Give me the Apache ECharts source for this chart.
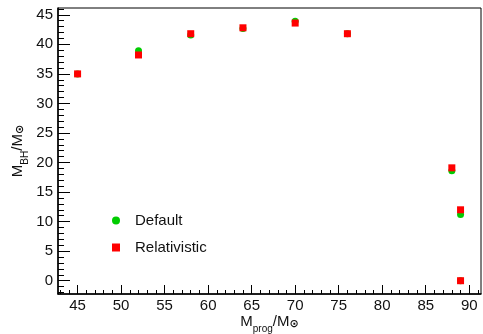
<!DOCTYPE html>
<html>
<head>
<meta charset="utf-8">
<script src="https://cdn.jsdelivr.net/npm/echarts@6/dist/echarts.min.js"></script>
<style>
  html, body { margin: 0; padding: 0; background: #fff; }
  #chart { width: 483px; height: 334px; }
</style>
</head>
<body>
<div id="chart"></div>
<script>
// progenitor masses (x) and black hole masses (y)
const progMass = [45, 52, 58, 64, 70, 76, 88, 89, 89];
const defaultBH = [35.0, 38.9, 41.6, 42.7, 43.9, 41.8, 18.6, 11.2, 0.0];
const relativisticBH = [35.0, 38.2, 41.8, 42.8, 43.6, 41.8, 19.1, 12.0, 0.0];

const xMajorTicks = [45, 50, 55, 60, 65, 70, 75, 80, 85, 90];
const xMinorTicks = Array.from({ length: 49 }, (_, i) => 43 + i);
const yMajorTicks = [0, 5, 10, 15, 20, 25, 30, 35, 40, 45];
const yMinorTicks = Array.from({ length: 49 }, (_, i) => -2 + i);

const xRange = [42.75, 91.35];
const yRange = [-2.25, 46.15];

const font = "'Liberation Sans', 'DejaVu Sans', Arial, sans-serif";
const textColor = "#111";

const rich = {
  m: { fontFamily: font, fontSize: 15, color: textColor },
  s: { fontFamily: font, fontSize: 10, color: textColor, verticalAlign: "bottom", padding: [0, 0, -5, 0] },
  o: { fontFamily: "'DejaVu Sans', sans-serif", fontSize: 11, color: textColor, fontWeight: "bold", padding: [0, 0, -5, 0] },
};

const pairs = (ys) => progMass.map((x, i) => [x, ys[i]]);

const chart = echarts.init(document.getElementById("chart"), undefined, { renderer: "canvas" });
chart.setOption({
  animation: false,
  grid: {
    left: 58, right: 2, top: 8, bottom: 40,
    outerBoundsMode: "none", containLabel: false,
    show: true, borderColor: "#000", borderWidth: 1, backgroundColor: "#fff",
  },
  legend: {
    orient: "vertical",
    left: 107, top: 208,
    itemWidth: 8, itemHeight: 8, itemGap: 12,
    textStyle: { fontFamily: font, fontSize: 15, color: textColor, padding: [0, 0, 0, 10] },
    data: [
      { name: "Default", icon: "circle" },
      { name: "Relativistic", icon: "rect" },
    ],
  },
  xAxis: [
    {
      type: "value", min: xRange[0], max: xRange[1], position: "bottom",
      name: "{m|M}{s|prog}{m|/M}{o|⊙}", nameLocation: "middle", nameGap: 20, nameMoveOverlap: false,
      nameTextStyle: { rich },
      axisLine: { onZero: false, lineStyle: { color: "#000", width: 1.5 } },
      axisTick: { inside: true, length: 9, customValues: xMajorTicks, lineStyle: { color: "#000" } },
      axisLabel: { customValues: xMajorTicks, margin: 4, fontFamily: font, fontSize: 15, color: textColor },
      splitLine: { show: false },
    },
    {
      type: "value", min: xRange[0], max: xRange[1], position: "bottom",
      axisLine: { show: false, onZero: false },
      axisTick: { inside: true, length: 4, customValues: xMinorTicks, lineStyle: { color: "#000" } },
      axisLabel: { show: false },
      splitLine: { show: false },
    },
  ],
  yAxis: [
    {
      type: "value", min: yRange[0], max: yRange[1], position: "left",
      name: "{m|M}{s|BH}{m|/M}{o|⊙}", nameLocation: "middle", nameGap: 33, nameRotate: 90, nameMoveOverlap: false,
      nameTextStyle: { rich },
      axisLine: { show: true, onZero: false, lineStyle: { color: "#000", width: 1.5 } },
      axisTick: { show: true, inside: true, length: 12, customValues: yMajorTicks, lineStyle: { color: "#000" } },
      axisLabel: { customValues: yMajorTicks, margin: 5, fontFamily: font, fontSize: 15, color: textColor },
      splitLine: { show: false },
    },
    {
      type: "value", min: yRange[0], max: yRange[1], position: "left",
      axisLine: { show: false, onZero: false },
      axisTick: { show: true, inside: true, length: 6, customValues: yMinorTicks, lineStyle: { color: "#000" } },
      axisLabel: { show: false },
      splitLine: { show: false },
    },
  ],
  series: [
    {
      name: "Default", type: "scatter", symbol: "circle", symbolSize: 7,
      itemStyle: { color: "#00cc00", opacity: 1 },
      data: pairs(defaultBH),
    },
    {
      name: "Relativistic", type: "scatter", symbol: "rect", symbolSize: 7,
      itemStyle: { color: "#ff0000", opacity: 1 },
      data: pairs(relativisticBH),
    },
  ],
});
</script>
</body>
</html>
